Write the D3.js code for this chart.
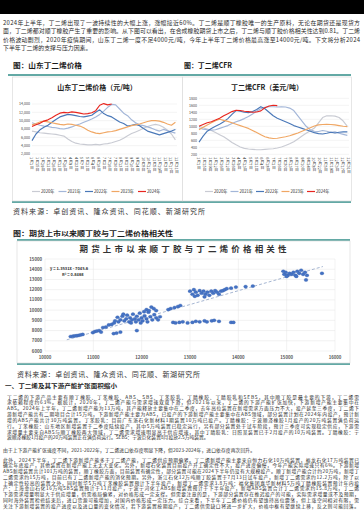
<!DOCTYPE html>
<html><head><meta charset="utf-8">
<script src="https://cdn.jsdelivr.net/npm/d3@7"></script>
<style>
body{margin:0;background:#fff}
svg{display:block}
text{font-family:"Noto Sans CJK SC","Noto Sans",sans-serif}
</style>
</head><body>
<svg id="page" width="364" height="515"></svg>
<script>
// ---------- DATA ----------
const years = ["2020年","2021年","2022年","2023年","2024年"];
const yearColors = ["#c9cbd3","#a3b6d8","#4a78b8","#f0a764","#e8261f"];
const sampleDays = [0,10,20,30,40,50,60,70,80,90,100,110,120,130,140,150,160,170,180,190,200,210,220,230,240,250,260,270,280,290,300,310,320,330,340,350,360];
const dateTickDays = [0,14,28,42,56,70,84,98,112,126,140,154,168,182,196,210,224,238,252,266,280,294,308,322,336,350,364];
const dateTickLabels = ["1月1日","1月15日","1月29日","2月12日","2月26日","3月12日","3月26日","4月9日","4月23日","5月7日","5月21日","6月4日","6月18日","7月2日","7月16日","7月30日","8月13日","8月27日","9月10日","9月24日","10月8日","10月22日","11月5日","11月19日","12月3日","12月17日","12月31日"];

// 山东丁二烯价格 (元/吨)
const sd2020 = [7500,7300,7100,7000,6900,6800,6700,6500,6300,5600,5000,4600,4400,4300,4200,4200,4300,4200,4400,4500,4700,5000,5300,5800,6400,6900,7300,7700,8200,8600,8900,9100,8900,8400,7700,6800,5400];
const sd2021 = [9500,9200,8900,8700,8600,8400,8300,8100,8000,8200,8500,8900,9200,9600,10000,10400,10900,11500,12300,13200,13900,13800,12800,11800,11200,10200,9500,9000,8800,8500,8200,7800,7500,7900,7600,7300,7000];
const sd2022 = [5200,6800,7800,8400,8900,9600,10300,10900,11200,11500,11400,11200,11000,10900,11100,11300,12000,12600,11700,11200,10900,10300,9700,9300,8700,8900,9100,8800,8100,7500,7200,6900,6600,6900,7200,7500,7900];
const sd2023 = [9000,9300,9700,9900,9700,9500,9300,9100,9000,9200,9100,8900,8700,8300,7700,7300,7000,6900,7100,7300,7400,7600,7900,8200,8500,8800,9000,9200,9500,9800,10000,10000,9900,9600,9200,8900,9600];
const sd2024 = [8600,9000,9400,9900,10200,10700,11300,11800,12000,11900,12100,12000,11800,11600,11700,11900,12400,13700,14100,13800,14000];
const sdTicks = [2000,4000,6000,8000,10000,12000,14000];

// 丁二烯CFR (美元/吨)
const cfr2020 = [1000,960,920,880,820,760,700,620,540,470,410,370,350,340,330,330,340,350,360,380,410,450,500,560,640,720,800,870,950,1100,1250,1300,1300,1290,1250,1150,1000];
const cfr2021 = [950,920,900,890,900,940,980,1020,1080,1130,1170,1220,1280,1350,1440,1500,1540,1560,1560,1550,1560,1550,1520,1450,1300,1150,1000,900,860,850,880,860,830,840,800,770,740];
const cfr2022 = [550,720,860,940,1000,1060,1130,1220,1340,1450,1430,1400,1390,1420,1480,1560,1500,1400,1300,1230,1180,1130,1080,1020,980,940,900,860,820,790,780,800,830,810,830,840,840];
const cfr2023 = [900,970,1040,1100,1160,1200,1170,1140,1100,1060,1020,980,940,880,820,760,700,670,650,660,680,700,730,770,810,860,910,960,1010,1040,1050,1060,1050,1040,1020,1000,990];
const cfr2024 = [1000,1050,1100,1130,1180,1230,1300,1360,1420,1460,1450,1430,1420,1400,1410,1440,1530,1580,1600,1590];
const cfrTicks = [200,400,600,800,1000,1200,1400,1600,1800];

// 期货上市以来顺丁胶(x)与丁二烯(y)价格
const scatterX = [10530,10580,10620,10660,10700,10740,10780,10990,11030,11070,11120,11160,11420,11480,11560,11900,11200,11260,11320,11380,11430,
11450,11500,11520,11560,11600,11640,11680,11700,11740,11760,11800,11820,11860,11880,11900,11940,11960,12000,12020,12060,12100,12140,12180,12220,12260,12300,12340,12380,11620,11780,11980,12120,
12050,12100,12150,12200,12250,12300,12550,12600,12680,12750,12800,
12650,12700,12780,12850,12950,13050,13120,13200,13300,13350,13450,13500,13600,13850,13900,
13000,13050,13080,13120,13160,13200,13240,13280,13320,13360,13400,13440,13480,13520,13560,13600,13640,13680,13720,13760,13100,13300,
13850,13950,14150,14300,
14930,14950,14980,15020,15060,15100,15140,15180,15220,15260,15300,15340,15380,15420,15000,15200,15730,15400];
const scatterY = [7420,7450,7480,7500,7530,7580,7620,7800,7900,7950,8000,7850,7700,7750,7850,8000,8300,8350,8550,8600,8750,
8950,9300,8850,9050,9400,8950,9150,9500,8850,9250,9050,9600,9150,8850,9400,9050,9700,9250,8950,9450,9150,9800,9350,9050,9550,9250,9050,9350,9600,8750,8750,8850,
9850,10050,9950,10300,10150,9950,10050,10150,10250,10350,10450,
8800,8750,8800,8850,8750,8800,8900,8850,8950,8850,8950,9000,8900,8800,8800,
11850,11550,12000,11750,11450,11900,11650,11850,11550,11750,11450,11850,11650,11900,11750,11550,11850,11900,12000,12100,11350,11300,
12150,12250,12300,12350,
13800,13500,13700,13400,13600,13500,13700,13400,13800,13600,13900,13500,13700,13400,13300,13300,13600,12950];
const scatterXTicks = [10000,11000,12000,13000,14000,15000,16000];
const scatterYTicks = [6000,7000,8000,9000,10000,11000,12000,13000,14000,15000];
const trendSlope = 1.3531, trendIntercept = -7045.6;
const trendRange = [10450,15750];

// text
const introLines = [
 "2024年上半年，丁二烯出现了一波持续性的大幅上涨，涨幅接近60%。丁二烯是顺丁橡胶唯一的生产原料，无论在期货还是现货方",
 "面，丁二烯都对顺丁橡胶产生了重要的影响。从下图可以看出，在合成橡胶期货上市之后，丁二烯与顺丁胶价格相关性达到0.81。丁二烯",
 "价格波动剧烈，2020年疫情期间，山东丁二烯一度不足4000元/吨，今年上半年丁二烯价格最高涨至14000元/吨。下文将分析2024",
 "下半年丁二烯的支撑与压力因素。"];
const para2 = [
 "丁二烯的下游产品主要有顺丁橡胶、丁苯橡胶、ABS、SBS、丁苯胶乳、丁腈橡胶、丁腈胶乳和SEBS，其中顺丁胶是最主要的下游，丁二烯需",
 "求依赖程度约63%。据统计，2020年，丁二烯产能与需求增速双双下滑，但2021年以来，丁二烯的下游产能扩张加快，下游新增产能主要集中在",
 "ABS。2024年上半年，丁二烯新增产能为13万吨，其产能释放主要集中在二季度，去年高位装置在新增需求方面压力不大，投产延至三季度，丁二烯下",
 "游新增产能共有二期项目合计15万吨，下游新增产能主要为ABS，已投产的下游新增产能主要集中在ABS领域，部分装置计划在2024年内投产，预计新",
 "增的ABS产能共计30万吨装置。丁苯胶乳：目前广东浙石化新材料1期装置10万吨已投产。丁腈橡胶：宁波顺泽橡胶1月投产的20万吨装置满负荷运",
 "行。丁苯橡胶：山东地区新增装置于二季度陆续投产，其中5万吨装置已稳定运行，另有部分装置处于试车阶段，预计三季度可实现稳定供应，下游需",
 "求增量主要来自ABS与顺丁橡胶两大领域，丁二烯需求增速明显高于供应增速，其中丁腈胶乳：日照某装置已于2月投产的10万吨装置。丁腈橡胶：宁",
 "波顺泽橡胶1月投产的20万吨装置正在满负荷运行。SEBS：宁波巨化装置8月投放2.5万吨装置。"];
const summaryLine = "由于上下游产能扩张速度不同，2021-2022年，丁二烯进口依存度明显下降，但2023-2024年，进口依存度再次回升。";
const para3 = [
 "此外，2024下半年，丁二烯下游新增产能多于丁二烯产能，丁二烯供应预期偏紧。丁二烯新增产能主要来自恒力石化10万吨装置，裕龙石化17万吨装置已",
 "确定年底投产，其他装置在新增产能上无太大变化。另外，新增石化装置目前投产开工确定性不大，投产进度偏慢，今年产能实际增速只有6%。下游新增",
 "ABS新增装置共计101万吨的装置，顺丁橡胶方面，目前装置有确定性，部分装置可能在2024下半年仍没有大规模投产。顺丁新增产能合计约20万吨，新增丁",
 "二烯需求约15万吨，目前已有丁二烯新增产能的消化预期。另外，浙江石化12万吨顺丁胶装置于7月13日试车投产，新增丁二烯需求约12.2万吨，除了以",
 "上确定性较高的装置之外，同时新华5万吨丁苯橡胶装置预计下半年投产，新增丁二烯需求3.8万吨；福化集团嘉华新材料5万吨丁腈橡胶装置预计年内投",
 "产；上海金山石化16万吨SBS装置预计于11月投产，宁波宁河化工ABS新增装置预计于下半年投产，新增ABS装置合计丁二烯需求约15.8万吨，丁二烯",
 "下游需求增量明显大于供应增量，供需格局偏紧，对价格形成一定支撑。但需要注意的是，下游部分装置存在推迟投产的可能，实际需求增量或不及预期，",
 "同时海外装置检修结束后，进口货源可能增加，对国内价格形成一定压力。综合来看，下半年丁二烯价格仍有望维持高位震荡，但上涨空间相对有限，需",
 "关注下游新增装置的投产进度以及进口量的变化情况，若下游装置按期投产，丁二烯供需缺口将进一步扩大，价格中枢有望继续上移，反之则可能回落。"];

// ---------- DRAW ----------
const svg = d3.select("#page");
const teal = "#2f8c87";
svg.append("rect").attr("width",364).attr("height",515).attr("fill","#fff");
svg.append("rect").attr("width",364).attr("height",14).attr("fill","#000");

function textLines(lines, x, y0, dy, size, width, opts={}) {
  lines.forEach((t,i)=>{
    const el = svg.append("text").attr("x",x).attr("y",y0+i*dy)
      .attr("font-size",size).attr("fill",opts.fill||"#2a2a2a").text(t);
    if (opts.weight) el.attr("font-weight",opts.weight);
    if (width && !(opts.lastShort && i===lines.length-1)) {
      const natural = el.node().getComputedTextLength();
      if (natural < width) el.attr("textLength",width).attr("lengthAdjust","spacing");
      else el.attr("font-size", size*width/natural);
    }
  });
}
textLines(introLines, 3, 25, 8.4, 5.9, 357, {lastShort:true});

// headings
function heading(t,x,y,size,len){
  svg.append("text").attr("x",x).attr("y",y).attr("font-size",size).attr("font-weight",700)
   .attr("fill","#1a1a1a").attr("textLength",len).attr("lengthAdjust","spacingAndGlyphs").text(t);
}
heading("图：山东丁二烯价格",13,68,7,69);
heading("图：丁二烯CFR",184,68,7,48);

svg.append("line").attr("x1",8).attr("x2",351).attr("y1",75).attr("y2",75).attr("stroke",teal).attr("stroke-width",1.6);
svg.append("line").attr("x1",12).attr("x2",351).attr("y1",202).attr("y2",202).attr("stroke",teal).attr("stroke-width",1.6);

function lineChart(cfg){
  const g = svg.append("g");
  g.append("rect").attr("x",cfg.box[0]).attr("y",77).attr("width",cfg.box[1]-cfg.box[0]).attr("height",124)
    .attr("fill","#fff").attr("stroke","#d6d6d6").attr("stroke-width",0.6);
  g.append("text").attr("x",cfg.titleX).attr("y",90).attr("text-anchor","middle").attr("font-size",7)
    .attr("font-weight",700).attr("fill","#222").text(cfg.title);
  const x = d3.scaleLinear().domain([0,364]).range(cfg.xr);
  const y = d3.scaleLinear().domain(cfg.yd).range(cfg.yr);
  g.selectAll(".grid").data(cfg.ticks).join("line").attr("x1",cfg.xr[0]).attr("x2",cfg.xr[1])
    .attr("y1",d=>y(d)).attr("y2",d=>y(d)).attr("stroke","#e8e8e8").attr("stroke-width",0.5);
  g.selectAll(".yl").data(cfg.ticks).join("text").attr("x",cfg.xr[0]-2).attr("y",d=>y(d)+1.3)
    .attr("text-anchor","end").attr("font-size",3.6).attr("fill","#444").text(d=>cfg.fmt(d));
  g.selectAll(".xl").data(dateTickDays).join("text").attr("x",d=>x(d)).attr("y",cfg.yr[0]+3)
    .attr("font-size",3.9).attr("fill","#333").style("writing-mode","vertical-rl")
    .text((d,i)=>dateTickLabels[i]);
  const line = d3.line().x((d,i)=>x(sampleDays[i])).y(d=>y(d));
  cfg.series.forEach((s,k)=>{
    g.append("path").attr("d",line(s)).attr("fill","none").attr("stroke",yearColors[k])
      .attr("stroke-width",1.15).attr("stroke-linejoin","round");
  });
  const itemW = cfg.legendW;
  const lx0 = cfg.legendX;
  years.forEach((yName,k)=>{
    const lx = lx0 + k*itemW;
    g.append("line").attr("x1",lx).attr("x2",lx+8).attr("y1",191.5).attr("y2",191.5)
      .attr("stroke",yearColors[k]).attr("stroke-width",1.2);
    g.append("text").attr("x",lx+9).attr("y",193).attr("font-size",4.2).attr("fill","#333").text(yName);
  });
}
lineChart({box:[12.5,182.5], titleX:97, title:"山东丁二烯价格（元/吨）", xr:[32,177], yd:[2000,14000], yr:[154,104],
  ticks:sdTicks, fmt:d3.format(","), series:[sd2020,sd2021,sd2022,sd2023,sd2024], legendX:32, legendW:26.5});
lineChart({box:[182.5,351.5], titleX:267, title:"丁二烯CFR（美元/吨）", xr:[199,349], yd:[200,1800], yr:[154.3,98.3],
  ticks:cfrTicks, fmt:d=>d, series:[cfr2020,cfr2021,cfr2022,cfr2023,cfr2024], legendX:205, legendW:25.5});

textLines(["资料来源：卓创资讯、隆众资讯、同花顺、新湖研究所"],13,214,0,7,192,{fill:"#333"});

// scatter
heading("图：期货上市以来顺丁胶与丁二烯价格相关性",13,236,6.3,160);
svg.append("line").attr("x1",17).attr("x2",350).attr("y1",240).attr("y2",240).attr("stroke",teal).attr("stroke-width",1.6);
svg.append("line").attr("x1",17).attr("x2",350).attr("y1",364).attr("y2",364).attr("stroke",teal).attr("stroke-width",1.6);
svg.append("rect").attr("x",17).attr("y",241).attr("width",333).attr("height",122).attr("fill","#fff")
  .attr("stroke","#d6d6d6").attr("stroke-width",0.6);
svg.append("text").attr("x",183).attr("y",251.5).attr("text-anchor","middle").attr("font-size",8.5)
  .attr("font-weight",700).attr("fill","#333").attr("textLength",207).attr("lengthAdjust","spacing")
  .text("期货上市以来顺丁胶与丁二烯价格相关性");
const sx = d3.scaleLinear().domain([10000,16000]).range([45,335]);
const sy = d3.scaleLinear().domain([6000,15000]).range([351,259]);
const sg = svg.append("g");
sg.selectAll(".hg").data(scatterYTicks).join("line").attr("x1",45).attr("x2",335)
  .attr("y1",d=>sy(d)).attr("y2",d=>sy(d)).attr("stroke","#e4e4e4").attr("stroke-width",0.5);
sg.selectAll(".vg").data(scatterXTicks).join("line").attr("y1",259).attr("y2",351)
  .attr("x1",d=>sx(d)).attr("x2",d=>sx(d)).attr("stroke","#e4e4e4").attr("stroke-width",0.5);
sg.selectAll(".yl").data(scatterYTicks).join("text").attr("x",42).attr("y",d=>sy(d)+1.5)
  .attr("text-anchor","end").attr("font-size",4.3).attr("font-weight",700).attr("fill","#555").text(d=>d);
sg.selectAll(".xl").data(scatterXTicks).join("text").attr("x",d=>sx(d)).attr("y",358.5)
  .attr("text-anchor","middle").attr("font-size",4.3).attr("font-weight",700).attr("fill","#555").text(d=>d);
sg.append("line").attr("x1",sx(trendRange[0])).attr("x2",sx(trendRange[1]))
  .attr("y1",sy(trendSlope*trendRange[0]+trendIntercept)).attr("y2",sy(trendSlope*trendRange[1]+trendIntercept))
  .attr("stroke","#8fa3c6").attr("stroke-width",0.8).attr("stroke-dasharray","3,2");
sg.selectAll(".pt").data(scatterX).join("ellipse").attr("cx",d=>sx(d)).attr("cy",(d,i)=>sy(scatterY[i]))
  .attr("rx",1.9).attr("ry",1.6).attr("fill","#4472c4").attr("stroke","#3a64ad").attr("stroke-width",0.3);
sg.append("text").attr("x",50).attr("y",270).attr("font-size",4).attr("font-weight",700).attr("fill","#333")
  .text("y = 1.3531x - 7045.6");
sg.append("text").attr("x",62).attr("y",275.5).attr("font-size",4).attr("font-weight",700).attr("fill","#333")
  .text("R² = 0.8468");

textLines(["资料来源：卓创资讯、隆众资讯、同花顺、新湖研究所"],17,377,0,7,183,{fill:"#333"});
heading("一、丁二烯及其下游产能扩张面积缩小",5,388,5.5,112);
textLines(para2, 7, 398.5, 5.85, 4.8, 352, {lastShort:true});
textLines([summaryLine], 3, 451.5, 0, 4.8, 252);
textLines(para3, 3, 461.5, 5.75, 4.8, 356);
</script>
</body></html>
